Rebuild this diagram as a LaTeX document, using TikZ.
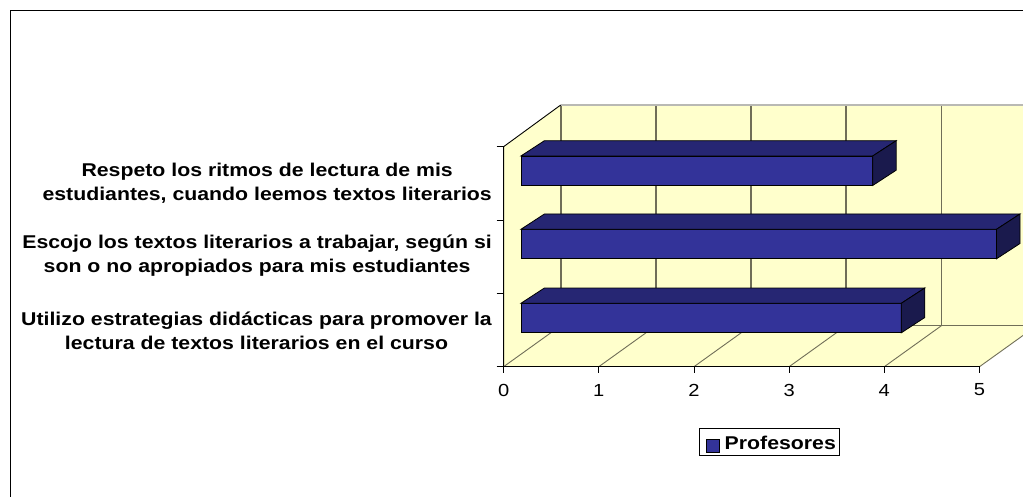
\documentclass[tikz,border=0pt]{standalone}
\usepackage{fontspec}
\setmainfont{Liberation Sans}
\newfontfamily\lab[FakeStretch=1.15]{Liberation Sans}
\definecolor{barfront}{RGB}{51,51,153}
\definecolor{bartop}{RGB}{38,38,115}
\definecolor{barside}{RGB}{26,26,77}
\definecolor{wall}{RGB}{255,255,204}
\definecolor{grid}{RGB}{112,110,88}
\definecolor{edge}{RGB}{185,185,180}
\tikzset{
  gridline/.style={draw=grid, line width=1.6pt},
  thinedge/.style={draw=grid, line width=0.9pt},
  axisline/.style={draw=black, line width=0.9pt},
  barface/.style={draw=black, line width=0.8pt},
  catlabel/.style={font=\lab\bfseries\fontsize{18.5}{24.5}\selectfont, align=center, anchor=east, inner sep=0pt},
  ticklabel/.style={font=\lab\fontsize{17.5}{20}\selectfont, inner sep=0pt},
}
\newcommand{\hbarthree}[2]{%
  \fill[barfront,barface] (520.9,#1) rectangle (#2,#1+29.5);
  \fill[bartop,barface] (520.9,#1) -- (544.4,#1-15.3) -- (#2+23.5,#1-15.3) -- (#2,#1) -- cycle;
  \fill[barside,barface] (#2,#1) -- (#2+23.5,#1-15.3) -- (#2+23.5,#1+14.2) -- (#2,#1+29.5) -- cycle;
}
\begin{document}
\begin{tikzpicture}[x=1pt,y=-1pt]
\useasboundingbox (0,0) rectangle (1023,497);
\clip (0,0) rectangle (1023,497);
\fill[white] (0,0) rectangle (1023,497);
% outer frame
\draw[black, line width=1.4pt] (1030,10.5) -- (10.5,10.5) -- (10.5,505);
% back wall
\fill[wall] (560.7,105) rectangle (1036.6,325.7);
% left wall
\fill[wall] (503.6,146.7) -- (560.7,105) -- (560.7,325.7) -- (503.6,366.7) -- cycle;
% floor
\fill[wall] (503.6,366.7) -- (560.7,325.7) -- (1036.6,325.7) -- (979.5,366.7) -- cycle;
% back wall grid
\foreach \i in {0,...,5} {
  \draw[gridline] (560.7+95.18*\i,105) -- (560.7+95.18*\i,325.7);
  \draw[thinedge] (503.6+95.18*\i,366.7) -- (560.7+95.18*\i,325.7);
}
\draw[edge, line width=1.6pt] (560.7,105) -- (1036.6,105);
\draw[thinedge] (560.7,325.7) -- (1036.6,325.7);
% left wall edges / axis
\draw[axisline] (503.6,366.7) -- (503.6,146.7) -- (560.7,105);
\draw[axisline] (503.6,366.7) -- (979.5,366.7);
\foreach \y in {146.7,220,293.3,366.7} \draw[axisline] (496.7,\y) -- (503.6,\y);
\foreach \i in {0,...,5} \draw[axisline] (503.6+95.18*\i,366.7) -- (503.6+95.18*\i,372.7);
% bars
\hbarthree{156}{872.7}
\hbarthree{229.3}{996.5}
\hbarthree{303.3}{901.3}
% tick labels
\foreach \i in {0,...,5} \node[ticklabel] (t\i) at (503.6+95.18*\i,390) {\i};
% category labels
\node[catlabel] (c1) at (492,183.3) {Respeto los ritmos de lectura de mis\\estudiantes, cuando leemos textos literarios};
\node[catlabel] (c2) at (492,255.7) {Escojo los textos literarios a trabajar, según si\\son o no apropiados para mis estudiantes};
\node[catlabel] (c3) at (492,331) {Utilizo estrategias didácticas para promover la\\lectura de textos literarios en el curso};
% legend
\draw[black, line width=0.9pt, fill=white] (699,428.3) rectangle (839,455);
\draw[black, line width=0.7pt, fill=barfront] (706,439) rectangle (719,452);
\node[font=\lab\bfseries\fontsize{18.5}{22}\selectfont, anchor=west, inner sep=0pt] (leg) at (724.5,443) {Profesores};
\end{tikzpicture}
\end{document}
